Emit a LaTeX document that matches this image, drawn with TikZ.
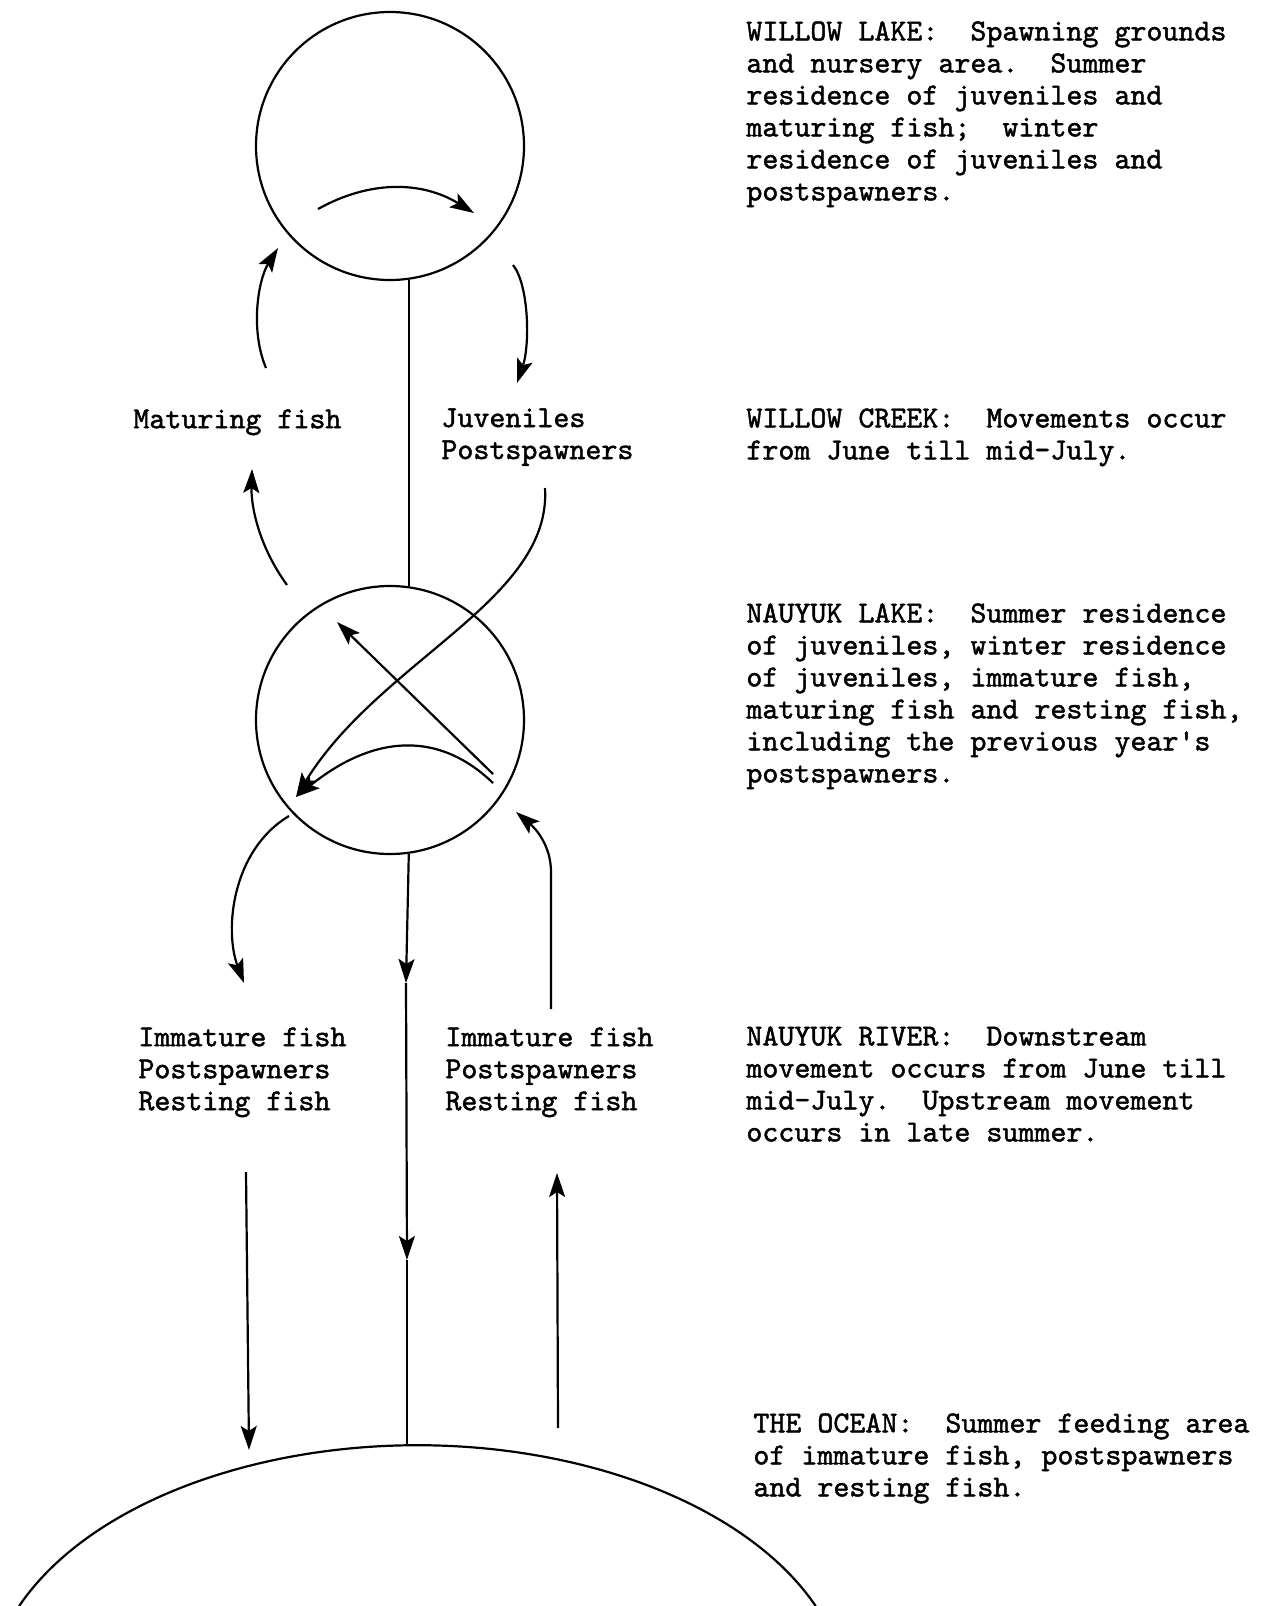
\documentclass[tikz,border=0pt]{standalone}
\usepackage{fontspec}
\setmonofont[FakeBold=1.5]{lmmono10-regular.otf}
\usetikzlibrary{arrows.meta}

\begin{document}
\begin{tikzpicture}
[
    x=0.5pt, y=-0.5pt,
    lake/.style={draw, circle, minimum size=134pt, inner sep=0pt, line width=1.1pt},
    note/.style={anchor=north west, inner sep=0pt, align=left,
        font=\ttfamily\frenchspacing\fontsize{15.24}{16}\selectfont},
    flow/.style={line width=1.1pt},
    move/.style={line width=1.1pt, -{Stealth[length=12pt, width=8pt, inset=2.5pt]}},
]
\useasboundingbox (0,0) rectangle (1265,1606);

\node[lake] (willow) at (390,146) {};
\node[lake] (nauyuk) at (390,720) {};
\coordinate (ocean) at (407,1444);

\node[note] (willowtxt) at (746,21)
{WILLOW LAKE:\ \ Spawning grounds\\and nursery area.\ \ Summer\\residence of juveniles and\\maturing fish;\ \ winter\\residence of juveniles and\\postspawners.};
\node[note] (creektxt) at (746,408)
{WILLOW CREEK:\ \ Movements occur\\from June till mid-July.};
\node[note] (nauyuktxt) at (746,603)
{NAUYUK LAKE:\ \ Summer residence\\of juveniles, winter residence\\of juveniles, immature fish,\\maturing fish and resting fish,\\including the previous year's\\postspawners.};
\node[note] (rivertxt) at (746,1026)
{NAUYUK RIVER:\ \ Downstream\\movement occurs from June till\\mid-July.\ \ Upstream movement\\occurs in late summer.};
\node[note] (oceantxt) at (753,1413)
{THE OCEAN:\ \ Summer feeding area\\of immature fish, postspawners\\and resting fish.};

\node[note] (maturing) at (133,409) {Maturing fish};
\node[note] (juveniles) at (441,408) {Juveniles\\Postspawners};
\node[note] (seaward) at (138,1027) {Immature fish\\Postspawners\\Resting fish};
\node[note] (homeward) at (445,1027) {Immature fish\\Postspawners\\Resting fish};

\coordinate (w1) at (318,209);
\coordinate (w2) at (474,213);
\coordinate (m1) at (266,368);
\coordinate (m2) at (278,248);
\coordinate (j1) at (513,265);
\coordinate (j2) at (517,383);
\coordinate (m3) at (287,585);
\coordinate (m4) at (252,469);
\coordinate (j3) at (545,488);
\coordinate (n1) at (296,797);
\coordinate (n2) at (493,774);
\coordinate (n3) at (337,622);
\coordinate (n4) at (493,783);
\coordinate (d1) at (289,816);
\coordinate (d2) at (244,983);
\coordinate (r1) at (406,983);
\coordinate (r2) at (407,1260);
\coordinate (u1) at (551,1009);
\coordinate (u2) at (551,872);
\coordinate (u3) at (516,812);
\coordinate (o1) at (246,1172);
\coordinate (o2) at (249,1450);
\coordinate (o3) at (558,1428);
\coordinate (o4) at (557,1173);

\draw[flow] (willow.-82) -- (nauyuk.82);
\draw[move] (w1) .. controls (370,180) and (422,181) .. (w2);
\draw[move] (m1) .. controls (250,330) and (258,280) .. (m2);
\draw[move] (j1) .. controls (529,285) and (530,345) .. (j2);
\draw[move] (m3) .. controls (258,545) and (251,505) .. (m4);
\draw[move] (j3) .. controls (552,600) and (380,660) .. (n1);
\draw[move] (n2) -- (n3);
\draw[move] (n4) .. controls (438,730) and (373,735) .. (n1);
\draw[move] (d1) .. controls (232,850) and (224,930) .. (d2);
\draw[move] (nauyuk.-82) -- (r1);
\draw[move] (r1) -- (r2);
\draw[flow] (r2) -- (ocean);
\draw[move] (u1) -- (u2) .. controls (551,845) and (535,828) .. (u3);
\draw[move] (o1) -- (o2);
\draw[move] (o3) -- (o4);
\draw[flow] (19,1606.2) arc[start angle=-157.9, end angle=-22.1, x radius=430, y radius=258];
\end{tikzpicture}
\end{document}
